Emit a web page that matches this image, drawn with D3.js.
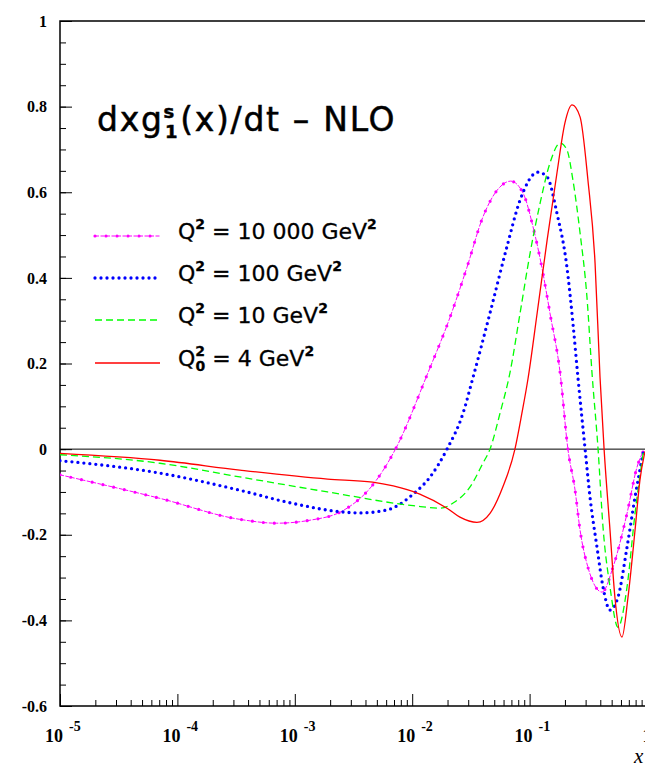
<!DOCTYPE html>
<html>
<head>
<meta charset="utf-8">
<title>dxg1s(x)/dt - NLO</title>
<style>
  body { margin: 0; background: #fff; }
  svg { display: block; }
</style>
</head>
<body>
<script src="https://d3js.org/d3.v7.min.js"></script>
<script>
  // tick values
  var xDecades = [1e-5, 1e-4, 1e-3, 1e-2, 1e-1, 1];
  var xExponents = ["-5", "-4", "-3", "-2", "-1", ""];
  var yMajor = [-0.6, -0.4, -0.2, 0, 0.2, 0.4, 0.6, 0.8, 1];

  // Q^2 = 10 000 GeV^2
  var x10000 = [1e-5, 7.1e-5, 3.4e-4, 7.0e-4, 1.35e-3, 2.6e-3, 4.6e-3, 7.2e-3, 1.36e-2, 2.1e-2,
                2.93e-2, 4.0e-2, 5.3e-2, 6.9e-2, 8.8e-2, 0.107, 0.130, 0.149, 0.182, 0.212,
                0.244, 0.269, 0.314, 0.414, 0.513, 0.676, 0.822, 0.933];
  var y10000 = [-0.060, -0.115, -0.164, -0.173, -0.166, -0.143, -0.084, 0.0, 0.178, 0.308,
                0.425, 0.542, 0.605, 0.626, 0.598, 0.519, 0.411, 0.318, 0.178, 0.0,
                -0.096, -0.189, -0.276, -0.334, -0.276, -0.150, -0.042, -0.004];

  // Q^2 = 100 GeV^2
  var x100 = [1e-5, 7.1e-5, 3.4e-4, 9.7e-4, 2.6e-3, 3.6e-3, 6.1e-3, 1.02e-2, 1.42e-2, 1.98e-2,
              2.71e-2, 3.3e-2, 4.6e-2, 6.4e-2, 8.3e-2, 0.118, 0.141, 0.171, 0.208, 0.234,
              0.258, 0.297, 0.327, 0.375, 0.422, 0.484, 0.566, 0.676, 0.791, 0.933];
  var y100 = [-0.027, -0.056, -0.096, -0.127, -0.147, -0.149, -0.142, -0.105, -0.065, 0.0,
              0.084, 0.168, 0.318, 0.472, 0.582, 0.647, 0.636, 0.551, 0.425, 0.294,
              0.168, 0.0, -0.112, -0.229, -0.322, -0.376, -0.346, -0.229, -0.112, -0.005];

  // Q^2 = 10 GeV^2
  var x10 = [1e-5, 7.1e-5, 3.4e-4, 1.9e-3, 1.02e-2, 1.73e-2, 2.23e-2, 3.1e-2, 4.0e-2, 4.6e-2,
             5.6e-2, 6.8e-2, 8.3e-2, 0.101, 0.123, 0.149, 0.182, 0.208, 0.234, 0.269,
             0.308, 0.340, 0.383, 0.422, 0.484, 0.566, 0.676, 0.791, 0.933];
  var y10 = [-0.013, -0.033, -0.065, -0.100, -0.132, -0.138, -0.126, -0.089, -0.033, 0.0,
             0.084, 0.178, 0.318, 0.458, 0.575, 0.668, 0.715, 0.699, 0.628, 0.505,
             0.355, 0.178, 0.0, -0.182, -0.322, -0.416, -0.322, -0.150, -0.005];

  // Q0^2 = 4 GeV^2
  var x4 = [1e-5, 7.1e-5, 3.4e-4, 1.9e-3, 4.6e-3, 6.9e-3, 1.16e-2, 1.98e-2, 2.55e-2, 3.56e-2,
            4.6e-2, 5.9e-2, 7.5e-2, 8.6e-2, 9.7e-2, 0.116, 0.141, 0.171, 0.200, 0.230,
            0.269, 0.314, 0.361, 0.398, 0.431, 0.484, 0.533, 0.612, 0.689, 0.791,
            0.871, 0.962];
  var y4 = [-0.010, -0.026, -0.049, -0.070, -0.077, -0.086, -0.105, -0.138, -0.159, -0.171,
            -0.150, -0.089, 0.0, 0.084, 0.165, 0.318, 0.488, 0.645, 0.762, 0.804,
            0.776, 0.628, 0.435, 0.168, 0.0, -0.189, -0.346, -0.439, -0.346, -0.189,
            -0.072, -0.005];

  var seriesNames = ["10000", "100", "10", "4"];
  var seriesColors = ["#ff00ff", "#0000ff", "#00ff00", "#ff0000"];

  var svgW = 645, svgH = 765;
  var plotL = 60, plotR = 647, plotT = 21, plotB = 706;
  var sansFont = "DejaVu Sans, sans-serif";
  var serifFont = "Liberation Serif, Times New Roman, serif";

  var svg = d3.select('body').append('svg')
    .attr('width', svgW).attr('height', svgH);

  var x = d3.scaleLog().domain([1e-5, 1]).range([plotL, plotR]);
  var y = d3.scaleLinear().domain([-0.6, 1]).range([plotB, plotT]);

  svg.append('clipPath').attr('id', 'plotclip')
    .append('rect').attr('x', plotL).attr('y', plotT)
    .attr('width', plotR - plotL).attr('height', plotB - plotT);

  // minor ticks
  var yMinor = d3.range(-0.6, 1.0001, 0.05).map(function(d) { return +d.toFixed(2); });
  var xMinor = [];
  xDecades.slice(0, -1).forEach(function(d) {
    for (var k = 2; k <= 9; k++) xMinor.push(d * k);
  });

  svg.append('g').attr('transform', 'translate(' + plotL + ',0)')
    .call(d3.axisLeft(y).tickValues(yMinor).tickSizeInner(-6).tickSizeOuter(0).tickFormat(''))
    .call(function(g) { g.select('.domain').remove(); });

  svg.append('g').attr('transform', 'translate(0,' + plotB + ')')
    .call(d3.axisBottom(x).tickValues(xMinor).tickSizeInner(-6).tickSizeOuter(0).tickFormat(''))
    .call(function(g) { g.select('.domain').remove(); });

  // major ticks + labels
  var yAxis = svg.append('g').attr('transform', 'translate(' + plotL + ',0)')
    .call(d3.axisLeft(y).tickValues(yMajor).tickSizeInner(-12).tickSizeOuter(0).tickPadding(13)
      .tickFormat(function(d) { return d === 0 ? '0' : String(+d.toFixed(1)); }));
  yAxis.select('.domain').remove();
  yAxis.selectAll('text')
    .attr('font-family', serifFont).attr('font-weight', 'bold').attr('font-size', 16)
    .attr('fill', '#000');

  var xAxis = svg.append('g').attr('transform', 'translate(0,' + plotB + ')')
    .call(d3.axisBottom(x).tickValues(xDecades).tickSizeInner(-12).tickSizeOuter(0).tickFormat(''));
  xAxis.select('.domain').remove();

  svg.selectAll('g.tick line').attr('stroke', '#000').attr('stroke-width', 1);

  // decade labels 10^n
  var xl = svg.append('g').attr('font-family', serifFont).attr('font-weight', 'bold');
  xDecades.forEach(function(d, i) {
    if (xExponents[i] === '') {
      xl.append('text').attr('x', x(d)).attr('y', 742).attr('text-anchor', 'middle')
        .attr('font-size', 18).text('1');
      return;
    }
    xl.append('text').attr('x', x(d) + 3).attr('y', 742).attr('text-anchor', 'end')
      .attr('font-size', 18).text('10');
    xl.append('text').attr('x', x(d) + 9).attr('y', 731)
      .attr('font-size', 14).text(xExponents[i]);
  });

  svg.append('text').attr('x', 634).attr('y', 763)
    .attr('font-family', serifFont).attr('font-style', 'italic').attr('font-size', 21)
    .text('x');

  // frame
  svg.append('rect').attr('x', plotL).attr('y', plotT)
    .attr('width', plotR - plotL).attr('height', plotB - plotT)
    .attr('fill', 'none').attr('stroke', '#000').attr('stroke-width', 1.5);

  // zero line
  svg.append('line').attr('x1', plotL).attr('x2', plotR)
    .attr('y1', y(0)).attr('y2', y(0))
    .attr('stroke', '#000').attr('stroke-width', 1);

  // curves
  var line = d3.line()
    .x(function(d) { return x(d[0]); })
    .y(function(d) { return y(d[1]); })
    .curve(d3.curveMonotoneX);

  var seriesData = [d3.zip(x10000, y10000), d3.zip(x100, y100), d3.zip(x10, y10), d3.zip(x4, y4)];

  // stroke layers per series
  var seriesStyles = [
    [{ w: 1, dash: '4,1.5', cap: 'butt' }, { w: 3.2, dash: '0,11', cap: 'round' }],
    [{ w: 3.3, dash: '0,6', cap: 'round' }],
    [{ w: 1.3, dash: '7,4', cap: 'butt' }],
    [{ w: 1.3, dash: null, cap: 'butt' }]
  ];

  var curves = svg.append('g').attr('clip-path', 'url(#plotclip)');
  seriesData.forEach(function(data, i) {
    seriesStyles[i].forEach(function(s) {
      curves.append('path').datum(data)
        .attr('d', line)
        .attr('fill', 'none')
        .attr('stroke', seriesColors[i])
        .attr('stroke-width', s.w)
        .attr('stroke-linecap', s.cap)
        .attr('stroke-dasharray', s.dash);
    });
  });

  // title
  var title = svg.append('text').attr('x', 97).attr('y', 131)
    .attr('font-family', sansFont).attr('font-size', 33).attr('letter-spacing', 1.7)
    .attr('fill', '#000').attr('stroke', '#000').attr('stroke-width', 0.5);
  title.append('tspan').text('dxg');
  title.append('tspan').attr('font-size', 18).attr('font-weight', 'bold').attr('dy', -13).text('s');
  title.append('tspan').attr('font-size', 18).attr('font-weight', 'bold').attr('dx', -11).attr('dy', 20).text('1');
  title.append('tspan').attr('dy', -7).attr('dx', 1).text('(x)/dt \u2013 NLO');

  // legend
  var legendY = [236, 278, 320, 363];
  var lg = svg.append('g');
  seriesNames.forEach(function(name, i) {
    var yy = legendY[i];
    seriesStyles[i].forEach(function(s) {
      lg.append('line').attr('x1', 95).attr('x2', 160).attr('y1', yy).attr('y2', yy)
        .attr('stroke', seriesColors[i]).attr('stroke-width', s.w)
        .attr('stroke-linecap', s.cap).attr('stroke-dasharray', s.dash);
    });
    var t = lg.append('text').attr('x', 178).attr('y', yy + 3)
      .attr('font-family', sansFont).attr('font-size', 22)
      .attr('fill', '#000').attr('stroke', '#000').attr('stroke-width', 0.3);
    t.append('tspan').text('Q');
    if (name === '4') {
      t.append('tspan').attr('font-size', 14).attr('font-weight', 'bold').attr('dy', -10).text('2');
      t.append('tspan').attr('font-size', 14).attr('font-weight', 'bold').attr('dx', -9.5).attr('dy', 15).text('0');
      t.append('tspan').attr('dy', -5).text(' = 4 GeV');
    } else {
      t.append('tspan').attr('font-size', 14).attr('font-weight', 'bold').attr('dy', -10).text('2');
      var label = name === '10000' ? '10 000' : name;
      t.append('tspan').attr('dy', 10).text(' = ' + label + ' GeV');
    }
    t.append('tspan').attr('font-size', 14).attr('font-weight', 'bold').attr('dy', -10).text('2');
  });
</script>
</body>
</html>
